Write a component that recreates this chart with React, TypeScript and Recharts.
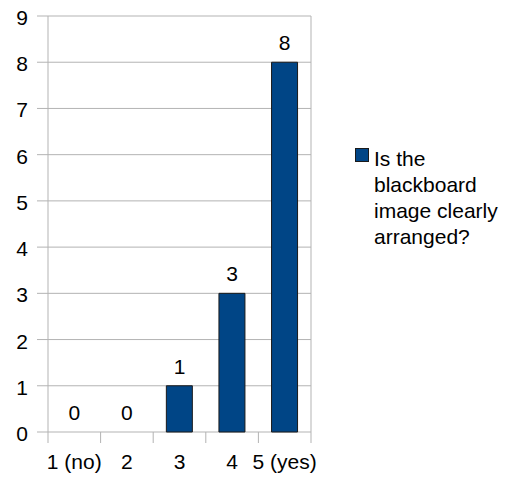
import React from 'react';
import { ComposedChart, Bar, Line, XAxis, YAxis, CartesianGrid, LabelList, Legend } from 'recharts';

const categories = ['1 (no)', '2', '3', '4', '5 (yes)'];
const values = [0, 0, 1, 3, 8];
const yTicks = [0, 1, 2, 3, 4, 5, 6, 7, 8, 9];
const legendLines = ['Is the', 'blackboard', 'image clearly', 'arranged?'];

const data = categories.map((c, i) => ({ category: c, value: values[i] }));

const FONT = '"Liberation Sans", Arial, sans-serif';
const FS = 21;
const GRID = '#b3b3b3';
const BAR = '#004586';

const CategoryTick = (props: any) => {
  const { x, y, payload, index, visibleTicksCount } = props;
  const half = payload && typeof payload.offset === 'number' ? payload.offset : 0;
  const last = (visibleTicksCount ?? categories.length) - 1;
  return (
    <g>
      <line x1={x - half} x2={x - half} y1={y} y2={y + 11} stroke={GRID} />
      {index === last && <line x1={x + half} x2={x + half} y1={y} y2={y + 11} stroke={GRID} />}
      <text x={x} y={y + 37} textAnchor="middle" fill="#000" fontSize={FS} fontFamily={FONT}>
        {payload.value}
      </text>
    </g>
  );
};

const ValueLabel = (props: any) => {
  const { x, y, value } = props;
  return (
    <text x={x} y={y - 12} textAnchor="middle" fill="#000" fontSize={FS} fontFamily={FONT}>
      {value}
    </text>
  );
};

const LegendContent = () => (
  <div style={{ position: 'relative', fontFamily: FONT, fontSize: FS, lineHeight: '26px', color: '#000' }}>
    <div style={{ position: 'absolute', left: 0, top: 2, width: 12, height: 12, background: BAR, border: '1px solid #1a1a1a' }} />
    <div style={{ marginLeft: 19 }}>
      {legendLines.map((l) => (
        <div key={l} style={{ whiteSpace: 'nowrap' }}>{l}</div>
      ))}
    </div>
  </div>
);

export default function App() {
  return (
    <div style={{ position: 'absolute', left: 0, top: 0, width: 509, height: 479, background: '#fff' }}>
      <ComposedChart
        width={509}
        height={479}
        data={data}
        margin={{ top: 16, right: 197, bottom: 0, left: 0 }}
        barCategoryGap="25%"
        style={{ fontFamily: FONT }}
      >
        <CartesianGrid horizontal vertical={false} stroke={GRID} />
        <YAxis
          type="number"
          domain={[0, 9]}
          ticks={yTicks}
          interval={0}
          width={48}
          tickSize={11}
          tickMargin={9}
          stroke={GRID}
          tickLine={{ stroke: GRID }}
          axisLine={{ stroke: GRID }}
          tick={{ fill: '#000', fontSize: FS, fontFamily: FONT, dy: 1.5 }}
        />
        <YAxis
          yAxisId="right"
          orientation="right"
          type="number"
          domain={[0, 9]}
          width={1}
          tick={false}
          tickLine={false}
          axisLine={{ stroke: GRID }}
        />
        <XAxis
          dataKey="category"
          type="category"
          height={47}
          interval={0}
          tickSize={0}
          tickMargin={0}
          tickLine={false}
          axisLine={false}
          tick={<CategoryTick />}
        />
        <Legend
          layout="horizontal"
          verticalAlign="middle"
          align="center"
          content={<LegendContent />}
          wrapperStyle={{ left: 355, top: 146, width: 154, height: 110 }}
        />
        <Bar
          dataKey="value"
          name="Is the blackboard image clearly arranged?"
          fill={BAR}
          stroke="#1a1a1a"
          strokeWidth={1}
          isAnimationActive={false}
        />
        <Line
          dataKey="value"
          stroke="none"
          dot={false}
          activeDot={false}
          legendType="none"
          isAnimationActive={false}
        >
          <LabelList dataKey="value" content={<ValueLabel />} />
        </Line>
      </ComposedChart>
    </div>
  );
}
